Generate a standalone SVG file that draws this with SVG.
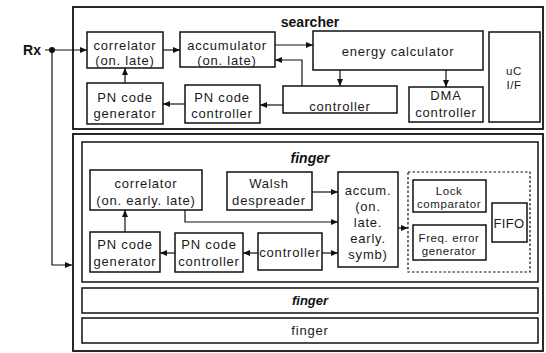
<svg xmlns="http://www.w3.org/2000/svg" width="546" height="353" viewBox="0 0 546 353">
<defs>
<marker id="ah" markerWidth="7" markerHeight="7" refX="7" refY="3.5" orient="auto" markerUnits="userSpaceOnUse"><path d="M0,0.5 L7,3.5 L0,6.5 z" fill="#111"/></marker>
<style>
.b{fill:#fff;stroke:#111;stroke-width:1.5}
.o{fill:none;stroke:#111;stroke-width:1.8}
.d{fill:none;stroke:#111;stroke-width:1.2;stroke-dasharray:2.5,2}
.t{font-family:"Liberation Sans",Arial,sans-serif;font-size:13px;fill:#1a1a1a;text-anchor:middle;letter-spacing:0.8px}
.s{font-size:11.5px;letter-spacing:0.6px}
.h{font-family:"Liberation Sans",Arial,sans-serif;font-size:14px;font-weight:bold;fill:#111;text-anchor:middle}
.i{font-style:italic}
.c{fill:none;stroke:#111;stroke-width:1.2}
</style>
</defs>
<g id="searcher">
<rect class="o" x="73" y="7" width="470" height="122"/>
<text class="h" x="310" y="27">searcher</text>
</g>
<g id="s-correlator"><rect class="b" x="87" y="32" width="76" height="36"/><text class="t" x="125" y="50">correlator</text><text class="t" x="125" y="65">(on. late)</text></g>
<g id="s-accumulator"><rect class="b" x="180" y="32" width="95" height="35"/><text class="t" x="227" y="50">accumulator</text><text class="t" x="227" y="65">(on. late)</text></g>
<g id="s-energy"><rect class="b" x="313" y="31" width="170" height="39"/><text class="t" x="398" y="56">energy calculator</text></g>
<g id="s-ucif"><rect class="b" x="489" y="32" width="51" height="90"/><text class="t s" x="514" y="75">uC</text><text class="t s" x="514" y="89">I/F</text></g>
<g id="s-controller"><rect class="b" x="283" y="86" width="114" height="27"/><text class="t" x="340" y="111">controller</text></g>
<g id="s-dma"><rect class="b" x="409" y="87" width="74" height="35"/><text class="t" x="446" y="100">DMA</text><text class="t" x="446" y="117">controller</text></g>
<g id="s-pngen"><rect class="b" x="87" y="83" width="76" height="41"/><text class="t" x="125" y="102">PN code</text><text class="t" x="125" y="118">generator</text></g>
<g id="s-pnctrl"><rect class="b" x="185" y="85" width="75" height="38"/><text class="t" x="222" y="102">PN code</text><text class="t" x="222" y="118">controller</text></g>
<g id="finger-main">
<rect class="o" x="73" y="134" width="470" height="217"/>
<rect class="b" x="82" y="142" width="456" height="140"/>
<text class="h i" x="310" y="163">finger</text>
</g>
<g id="f-correlator"><rect class="b" x="90" y="170" width="112" height="40"/><text class="t" x="146" y="188">correlator</text><text class="t" x="146" y="205">(on. early. late)</text></g>
<g id="f-walsh"><rect class="b" x="227" y="172" width="85" height="38"/><text class="t" x="269" y="188">Walsh</text><text class="t" x="269" y="205">despreader</text></g>
<g id="f-accum"><rect class="b" x="338" y="172" width="60" height="95"/><text class="t" x="368" y="195">accum.</text><text class="t" x="368" y="211">(on.</text><text class="t" x="368" y="227">late.</text><text class="t" x="368" y="243">early.</text><text class="t" x="368" y="259">symb)</text></g>
<g id="f-group"><rect class="d" x="408" y="172" width="122" height="100"/></g>
<g id="f-lock"><rect class="b" x="413" y="180" width="73" height="32"/><text class="t s" x="449" y="195">Lock</text><text class="t s" x="449" y="208">comparator</text></g>
<g id="f-freq"><rect class="b" x="413" y="225" width="73" height="35"/><text class="t s" x="449" y="242">Freq. error</text><text class="t s" x="449" y="255">generator</text></g>
<g id="f-fifo"><rect class="b" x="492" y="203" width="35" height="39"/><text class="t" x="509" y="228" style="letter-spacing:0.3px">FIFO</text></g>
<g id="f-pngen"><rect class="b" x="90" y="232" width="70" height="40"/><text class="t" x="125" y="249">PN code</text><text class="t" x="125" y="266">generator</text></g>
<g id="f-pnctrl"><rect class="b" x="175" y="233" width="68" height="39"/><text class="t" x="209" y="249">PN code</text><text class="t" x="209" y="266">controller</text></g>
<g id="f-controller"><rect class="b" x="258" y="233" width="64" height="37"/><text class="t" x="290" y="257">controller</text></g>
<g id="finger-2"><rect class="b" x="82" y="288" width="456" height="25"/><text class="h i" x="310" y="305" style="font-size:13px">finger</text></g>
<g id="finger-3"><rect class="b" x="82" y="318" width="456" height="25"/><text class="t" x="310" y="335">finger</text></g>
<g id="rx"><text class="h" x="32" y="55">Rx</text><circle cx="52" cy="50" r="3" fill="#111"/></g>
<g id="connectors">
<path class="c" d="M45,50 H87" marker-end="url(#ah)"/>
<path class="c" d="M52,50 V265 H72" marker-end="url(#ah)"/>
<path class="c" d="M163,50 H180" marker-end="url(#ah)"/>
<path class="c" d="M275,45 H313" marker-end="url(#ah)"/>
<path class="c" d="M302,86 V60 H275" marker-end="url(#ah)"/>
<path class="c" d="M340,70 V86" marker-end="url(#ah)"/>
<path class="c" d="M446,70 V87" marker-end="url(#ah)"/>
<path class="c" d="M283,105 H260" marker-end="url(#ah)"/>
<path class="c" d="M185,104 H163" marker-end="url(#ah)"/>
<path class="c" d="M125,83 V68" marker-end="url(#ah)"/>
<path class="c" d="M125,232 V210" marker-end="url(#ah)"/>
<path class="c" d="M175,253 H160" marker-end="url(#ah)"/>
<path class="c" d="M258,253 H243" marker-end="url(#ah)"/>
<path class="c" d="M322,253 H338" marker-end="url(#ah)"/>
<path class="c" d="M312,192 H338" marker-end="url(#ah)"/>
<path class="c" d="M185,210 V222 H338" marker-end="url(#ah)"/>
<path class="c" d="M398,228 H408" marker-end="url(#ah)"/>
</g>
</svg>
